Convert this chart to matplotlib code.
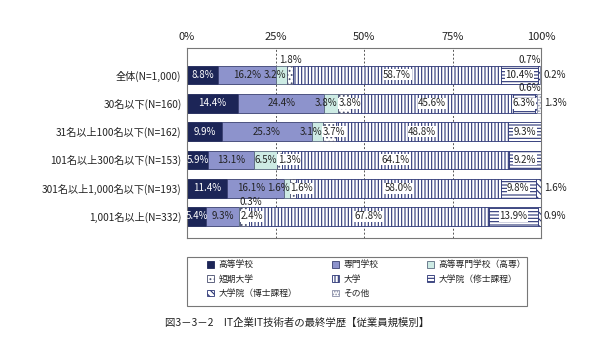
import matplotlib
matplotlib.use("Agg")
import matplotlib.pyplot as plt
from matplotlib.patches import Patch, Rectangle
import numpy as np

plt.rcParams['font.family'] = ['Noto Sans CJK JP', 'DejaVu Sans']
plt.rcParams['hatch.linewidth'] = 0.8

# rows (top to bottom)
rows = ["全体(N=1,000)", "30名以下(N=160)", "31名以上100名以下(N=162)",
        "101名以上300名以下(N=153)", "301名以上1,000名以下(N=193)",
        "1,001名以上(N=332)"]

categories = ["高等学校", "専門学校", "高等専門学校（高専）", "短期大学", "大学",
              "大学院（修士課程）", "大学院（博士課程）", "その他"]

koukou = [8.8, 14.4, 9.9, 5.9, 11.4, 5.4]
senmon = [16.2, 24.4, 25.3, 13.1, 16.1, 9.3]
kousen = [3.2, 3.8, 3.1, 6.5, 1.6, 0.3]
tandai = [1.8, 3.8, 3.7, 1.3, 1.6, 2.4]
daigaku = [58.7, 45.6, 48.8, 64.1, 58.0, 67.8]
shushi = [10.4, 6.3, 9.3, 9.2, 9.8, 13.9]
hakase = [0.7, 0.6, 0.0, 0.0, 1.6, 0.9]
sonota = [0.2, 1.3, 0.0, 0.0, 0.0, 0.0]

series = [koukou, senmon, kousen, tandai, daigaku, shushi, hakase, sonota]

# style per category: facecolor, hatch colour, hatch
styles = [
    ("#1c2557", "#1c2557", None),
    ("#8d93cc", "#3a4070", None),
    ("#cdebe4", "#5a6a80", None),
    ("#ffffff", "#4a5070", "...."),
    ("#ffffff", "#2a3475", "|||||"),
    ("#ffffff", "#2a3475", "-----"),
    ("#ffffff", "#2a3475", "\\\\\\\\\\"),
    ("#ffffff", "#8a8fa8", "......"),
]

# special label placement: (row, category) -> mode
placement = {
    (0, 3): "above_c", (0, 6): "above_r", (0, 7): "right",
    (1, 6): "above_r", (1, 7): "right",
    (4, 1): "center_left", (4, 6): "right",
    (5, 2): "above_l", (5, 6): "right",
}

fig = plt.figure(figsize=(6.0, 3.44), dpi=100)
ax = fig.add_axes([0.3117, 0.3081, 0.59, 0.5523])

fs = 7
y = np.arange(len(rows))
bh = 0.66
left = np.zeros(len(rows))
for ci, vals in enumerate(series):
    fc, hc, hatch = styles[ci]
    vals = np.array(vals)
    ax.barh(y, vals, left=left, height=bh, color=fc, edgecolor=hc,
            hatch=hatch, linewidth=0.6, zorder=2)
    for ri, v in enumerate(vals):
        if v <= 0:
            continue
        x0 = left[ri]
        x1 = left[ri] + v
        txt = f"{v:.1f}%"
        mode = placement.get((ri, ci))
        tcol = "white" if ci == 0 else "#222222"
        box = None
        if ci in (3, 4, 5):
            box = dict(boxstyle="square,pad=0.05", fc="white", ec="none")
        if mode == "above_c":
            ax.text((x0 + x1) / 2, ri - bh / 2 - 0.02, txt, ha="center", va="bottom",
                    fontsize=fs, color="#222222", zorder=4)
        elif mode == "above_r":
            ax.text(100, ri - bh / 2 - 0.02, txt, ha="right", va="bottom",
                    fontsize=fs, color="#222222", zorder=4)
        elif mode == "above_l":
            ax.text(x0, ri - bh / 2 - 0.02, txt, ha="left", va="bottom",
                    fontsize=fs, color="#222222", zorder=4)
        elif mode == "right":
            ax.text(100.8, ri, txt, ha="left", va="center",
                    fontsize=fs, color="#222222", zorder=4)
        elif mode == "center_left":
            ax.text((x0 + x1) / 2 - 1.2, ri, txt, ha="center", va="center",
                    fontsize=fs, color=tcol, zorder=4)
        elif ci == 2 and v < 5:
            ax.text(x1 - 0.2, ri, txt, ha="right", va="center", fontsize=fs,
                    color=tcol, zorder=4)
        elif ci == 3 and v < 5:
            ax.text(x0 + 0.1, ri, txt, ha="left", va="center", fontsize=fs,
                    color=tcol, bbox=box, zorder=4)
        else:
            ax.text((x0 + x1) / 2, ri, txt, ha="center", va="center",
                    fontsize=fs, color=tcol, bbox=box, zorder=4)
    left = left + vals

ax.set_xlim(0, 100)
ax.set_ylim(len(rows) - 1 + 0.76, -0.95)
ax.set_xticks([0, 25, 50, 75, 100])
ax.set_xticklabels(["0%", "25%", "50%", "75%", "100%"], fontsize=8)
ax.xaxis.tick_top()
ax.tick_params(axis="x", length=0, pad=4, colors="#222222")
ax.set_yticks(y)
ax.set_yticklabels(rows, fontsize=7.3)
ax.tick_params(axis="y", length=0, pad=4, colors="#222222")
for xv in [25, 50, 75]:
    ax.axvline(xv, color="#555555", linestyle=(0, (2, 2)), linewidth=0.7, zorder=1)
for s in ax.spines.values():
    s.set_color("#777777")
    s.set_linewidth(0.8)

# legend: three single-column legends inside a hand-drawn frame
handles = []
for ci, name in enumerate(categories):
    fc, hc, hatch = styles[ci]
    handles.append(Patch(facecolor=fc, edgecolor=hc, hatch=hatch, linewidth=0.6, label=name))
columns = [[0, 3, 6], [1, 4, 7], [2, 5]]
col_x = [0.345, 0.553, 0.7117]
for idx, cx in zip(columns, col_x):
    lg = fig.legend([handles[i] for i in idx], [categories[i] for i in idx],
                    ncol=1, loc="upper left", bbox_to_anchor=(cx, 0.243),
                    fontsize=6.3, frameon=False, handlelength=0.8,
                    handleheight=0.8, handletextpad=0.5, labelspacing=0.6,
                    borderpad=0, borderaxespad=0)
    for t in lg.get_texts():
        t.set_color("#222222")
fig.add_artist(Rectangle((0.3117, 0.1105), 0.5667, 0.1424, transform=fig.transFigure,
                         fill=False, edgecolor="#777777", linewidth=0.8))

fig.text(0.275, 0.061, "図3－3－2　IT企業IT技術者の最終学歴【従業員規模別】",
         fontsize=7.5, color="#222222", ha="left", va="center")

fig.savefig("out.png", dpi=100)
